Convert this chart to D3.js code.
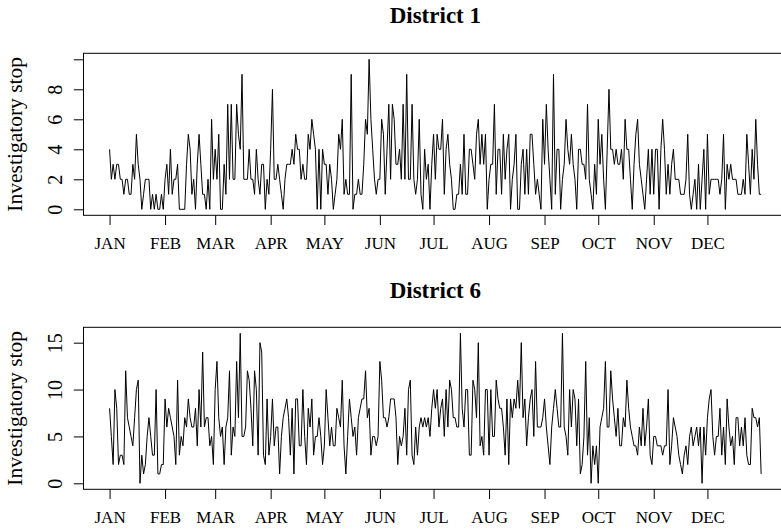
<!DOCTYPE html>
<html>
<head>
<meta charset="utf-8">
<script src="https://cdn.jsdelivr.net/npm/d3@7"></script>
<style>
	body { margin: 0; background: #fff; }
	text { font-family: "Liberation Serif", "Times New Roman", serif; fill: #000; }
</style>
</head>
<body>
<div id="graph"></div>
<script>
var monthNames = ["JAN", "FEB", "MAR", "APR", "MAY", "JUN", "JUL", "AUG", "SEP", "OCT", "NOV", "DEC"],
	monthStarts = [1, 32, 60, 91, 121, 152, 182, 213, 244, 274, 305, 335];

// daily investigatory stops, day 1..365
var district1 = [
	4,2,3,2,3,3,2,2,1,2, 2,1,1,3,2,5,3,2,0,1, 2,2,2,0,1,0,1,0,0,1,
	0,2,3,1,4,1,2,2,3,0, 0,0,0,3,5,4,1,2,0,3, 5,3,1,1,0,2,0,6,2,4,
	2,5,0,0,3,1,7,2,7,2, 2,7,5,4,9,2,2,2,4,
	2,2,1,4,2,1,3,3,0,2,1,
	4,8,2,2,3,2,1,0,2,3, 3,3,4,3,5,4,4,2,3,2, 2,5,4,6,5,4,0,4,0,4,
	3,3,1,3,2,0,1,2,5,4, 6,1,2,1,1,9,0,1,1,2, 1,1,3,6,5,10,6,4,2,1,
	2,2,6,5,1,4,7,2,7,6, 3,3,4,2,7,2,9,2,2,7, 2,1,2,6,1,0,4,2,3,0,
	3,5,2,5,4,4,6,1,4,5, 3,2,0,0,1,1,3,1,5,1, 1,4,4,3,2,5,6,3,5,3,
	5,0,2,3,3,7,1,4,4,1, 5,2,4,5,0,2,3,5,0,0, 3,4,1,4,1,5,5,3,1,2,
	1,0,6,3,7,4,2,0,9,1, 4,4,0,2,3,6,4,3,5,3, 2,0,4,4,3,3,2,7,2,1,
	0,3,1,6,3,5,2,0,
	4,8,4,4,3,4,3,3,4,2,6,4,
	4,2,0,3,5,6,3,2,1,0, 2,4,1,4,1,4,4,0,4,6, 4,1,3,1,3,4,2,2,2,1,
	1,1,2,5,1,0,1,2,0,3, 0,2,4,0,5,1,2,2,2,2, 2,1,2,5,0,3,2,3,2,2,
	2,1,1,1,2,1,5,3,1,4, 2,6,3,1,1
];

var district6 = [
	8,5,2,10,8,2,3,3,2,12, 7,6,5,4,7,10,11,0,3,1, 2,5,7,5,3,3,10,1,1,2,
	2,9,6,8,7,6,5,2,11,3, 5,4,7,6,9,7,6,6,8,4, 10,6,14,6,7,7,4,5,2,10,
	13,7,5,6,2,6,7,12,3,6, 5,13,7,16,5,5,6,12,11,8, 4,12,10,3,15,
	14,3,2,9,3,
	5,9,4,6,6,1,5,7,8,9, 7,3,8,1,9,9,4,4,10,5, 2,8,6,9,3,5,5,7,5,2,
	4,10,7,4,6,4,4,8,7,6, 11,4,1,5,9,7,5,6,3,7, 8,9,9,12,7,8,3,5,5,4,
	5,13,11,7,7,6,7,9,9,9, 7,2,5,4,5,8,3,10,11,3, 2,6,3,6,7,6,7,6,7,5,
	8,10,8,10,6,8,9,5,
	10,6,11,10,7,7,6,6,16,8,6,10,
	10,3,3,11,10,7,15,4,5,3, 10,10,3,10,5,5,11,9,8,8, 6,3,9,2,9,7,9,8,11,8,
	15,7,9,4,7,9,10,5,13,6, 6,6,7,9,6,4,2,6,8,10, 8,6,6,16,6,5,3,10,6,10,
	9,4,9,1,2,5,13,3,7,0, 4,2,4,0,6,7,8,13,
	6,6,12,9,7,5,8,4,4,7,6,11,
	8,6,5,4,4,3,6,4,8,4, 6,9,3,2,5,5,4,4,4,3, 4,4,10,2,4,7,6,5,3,2,
	1,3,4,2,5,6,4,5,6,
	4,6,0,6,3,7,9,10,5,3, 5,5,8,3,6,2,9,6,4,5, 2,7,7,4,6,4,7,3,2,2,
	8,7,7,6,7,1
];

var panelTitles = ["District 1", "District 6"],
	yTicks1 = [0, 2, 4, 6, 8, 10],
	yTicks6 = [0, 5, 10, 15];

var SVGwidth = 781,
	SVGheight = 530,
	box = {left: 83.5, right: 787.2, height: 162},
	tickLen = 9.7;

var svg = d3.select("div#graph")
				.append("svg")
				.attr("width", SVGwidth)
				.attr("height", SVGheight);

svg.append("rect")
	.attr("width", SVGwidth)
	.attr("height", SVGheight)
	.attr("fill", "#fff");

var nDays = 365,
	padDays = 0.04 * (nDays - 1);

var x = d3.scaleLinear()
			.domain([1 - padDays, nDays + padDays])
			.range([box.left, box.right]);

var panels = [
	{title: panelTitles[0], data: district1, ymax: 10, ticks: yTicks1, hide: [10], top: 53.3, titleY: 23.3},
	{title: panelTitles[1], data: district6, ymax: 16, ticks: yTicks6, hide: [], top: 327.3, titleY: 298.3}
];

panels.forEach(function(p){
	var bottom = p.top + box.height;
	var y = d3.scaleLinear()
				.domain([-0.04 * p.ymax, p.ymax * 1.04])
				.range([bottom, p.top]);

	var g = svg.append("g").attr("class", "panel");

	// title
	g.append("text")
		.attr("x", (box.left + box.right) / 2)
		.attr("y", p.titleY)
		.attr("text-anchor", "middle")
		.style("font-weight", "bold")
		.style("font-size", "23px")
		.text(p.title);

	// series
	g.append("path")
		.datum(p.data)
		.attr("fill", "none")
		.attr("stroke", "#000")
		.attr("stroke-width", 1)
		.attr("stroke-linejoin", "round")
		.attr("d", d3.line()
			.x(function(d, i){ return x(i + 1); })
			.y(function(d){ return y(d); }));

	// box
	g.append("rect")
		.attr("x", box.left)
		.attr("y", p.top)
		.attr("width", box.right - box.left)
		.attr("height", box.height)
		.attr("fill", "none")
		.attr("stroke", "#000")
		.attr("stroke-width", 1);

	// x axis
	var xAxis = g.append("g")
		.attr("transform", "translate(0," + bottom + ")")
		.call(d3.axisBottom(x)
			.tickValues(monthStarts)
			.tickSize(tickLen)
			.tickFormat(function(d, i){ return monthNames[i]; }));
	xAxis.select(".domain").remove();
	xAxis.selectAll("line").attr("stroke", "#000");
	xAxis.selectAll("text")
		.attr("y", 34)
		.attr("dy", 0)
		.style("font-size", "17px")
		.style("font-family", "'Liberation Serif', 'Times New Roman', serif");

	// y axis
	var yAxis = g.append("g")
		.attr("transform", "translate(" + box.left + ",0)")
		.call(d3.axisLeft(y)
			.tickValues(p.ticks)
			.tickSize(tickLen)
			.tickFormat(function(d){ return p.hide.indexOf(d) >= 0 ? "" : d; }));
	yAxis.select(".domain").remove();
	yAxis.selectAll("line").attr("stroke", "#000");
	yAxis.selectAll("text")
		.attr("x", 0)
		.attr("dy", 0)
		.attr("text-anchor", "middle")
		.attr("transform", "translate(-22,0) rotate(-90)")
		.style("font-size", "20px")
		.style("font-family", "'Liberation Serif', 'Times New Roman', serif");

	// y label
	g.append("text")
		.attr("transform", "translate(22," + ((p.top + bottom) / 2) + ") rotate(-90)")
		.attr("text-anchor", "middle")
		.style("font-size", "21.5px")
		.text("Investigatory stop");
});
</script>
</body>
</html>
